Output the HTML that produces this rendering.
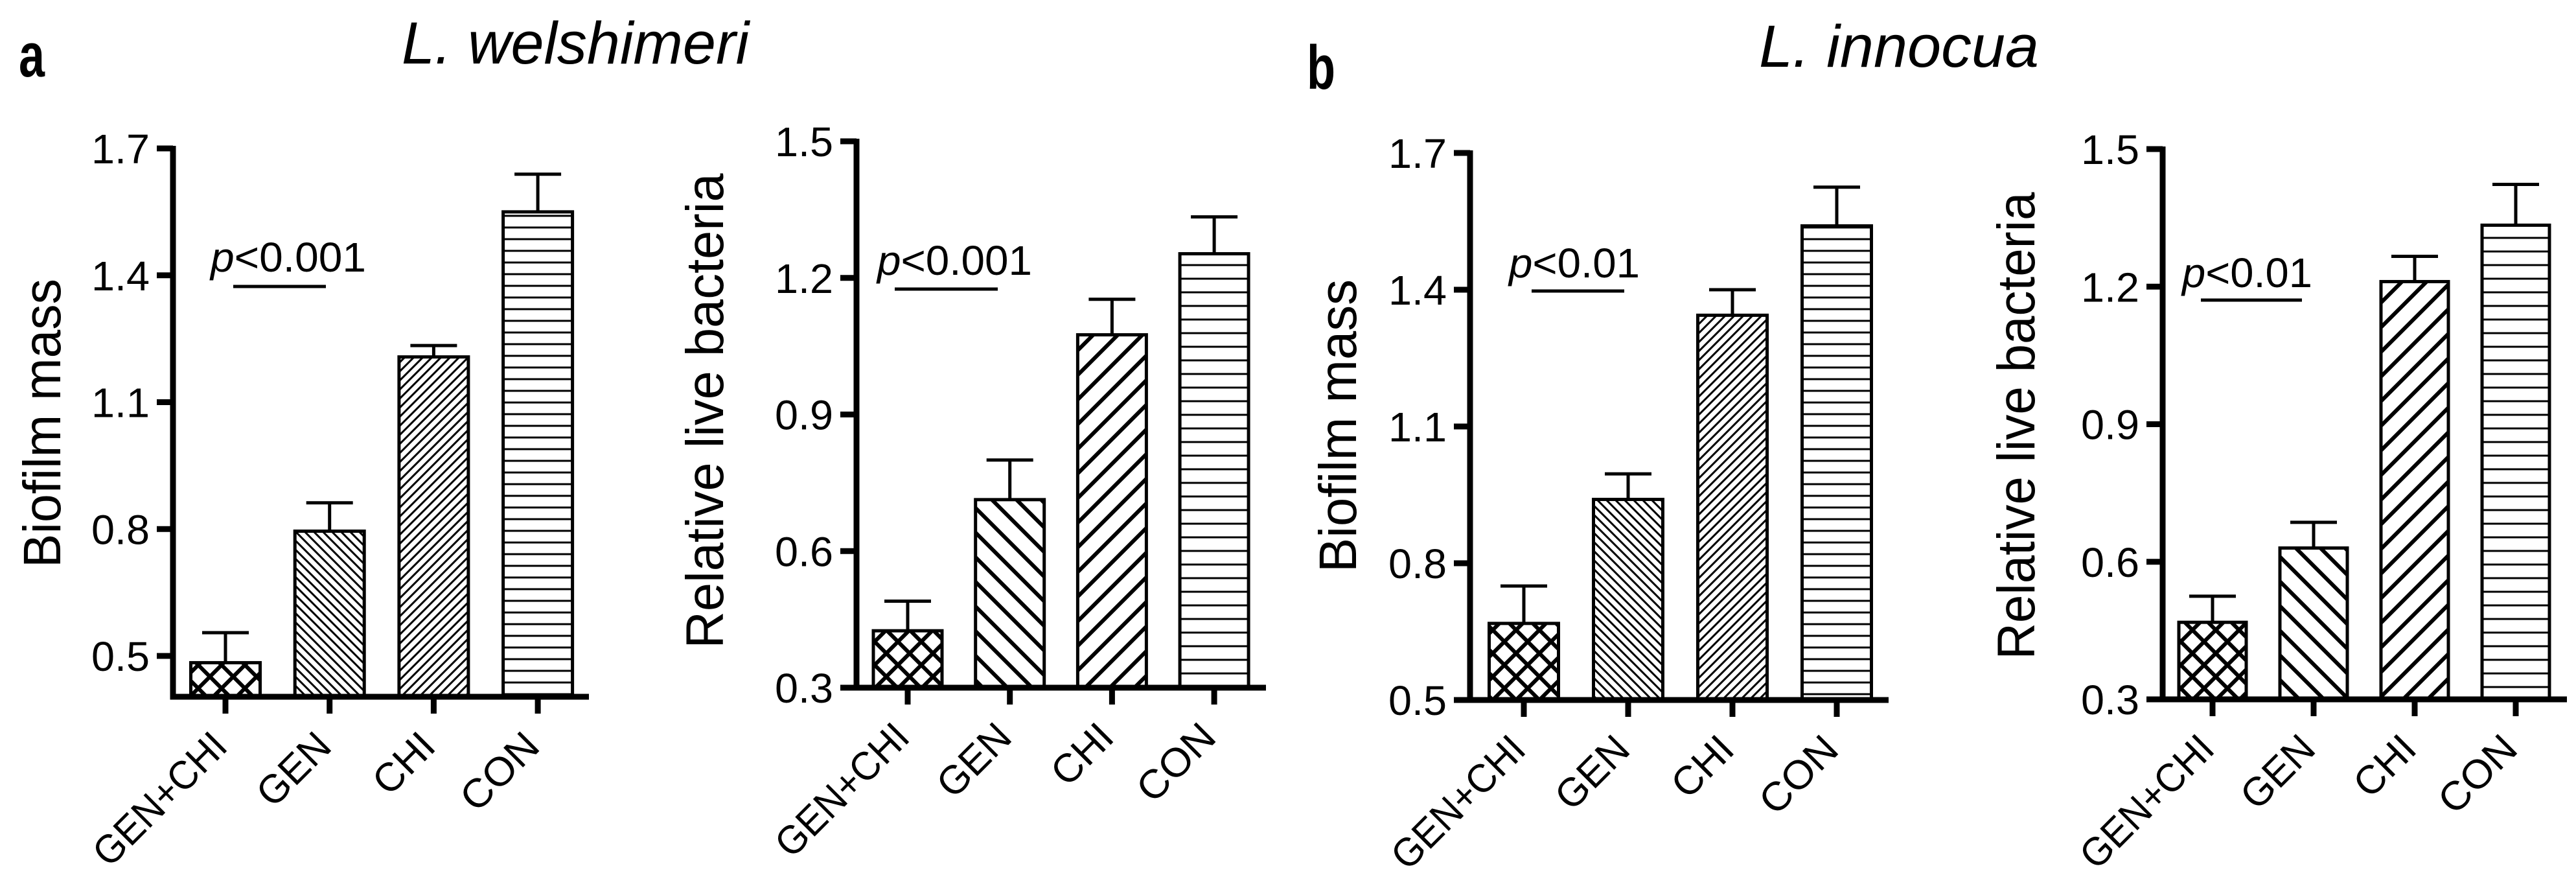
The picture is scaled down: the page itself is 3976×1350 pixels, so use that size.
<!DOCTYPE html>
<html><head><meta charset="utf-8"><style>
html,body{margin:0;padding:0;background:#fff;}
svg{display:block;font-family:"Liberation Sans",Arial,sans-serif;}
</style></head><body>
<svg id="fig" width="3976" height="1350" viewBox="0 0 3976 1350" xmlns="http://www.w3.org/2000/svg">
<defs>
  <pattern id="crossA" patternUnits="userSpaceOnUse" width="36" height="36"><path d="M-9,-9 L45,45 M-9,27 L9,45 M27,-9 L45,9 M45,-9 L-9,45 M9,-9 L-9,9 M45,27 L27,45" stroke="#000" stroke-width="6"/></pattern>
  <pattern id="backFine" patternUnits="userSpaceOnUse" width="14" height="14"><path d="M-4,-4 L18,18 M-4,10 L4,18 M10,-4 L18,4" stroke="#000" stroke-width="3"/></pattern>
  <pattern id="fwdFine" patternUnits="userSpaceOnUse" width="14" height="14"><path d="M18,-4 L-4,18 M4,-4 L-4,4 M18,10 L10,18" stroke="#000" stroke-width="3"/></pattern>
  <pattern id="horizA" patternUnits="userSpaceOnUse" width="20" height="18"><path d="M0,9 L20,9" stroke="#000" stroke-width="3"/></pattern>
  <pattern id="backThick" patternUnits="userSpaceOnUse" width="38" height="38"><path d="M-8,-8 L46,46 M-8,30 L8,46 M30,-8 L46,8" stroke="#000" stroke-width="6"/></pattern>
  <pattern id="fwdThick" patternUnits="userSpaceOnUse" width="38" height="38"><path d="M46,-8 L-8,46 M8,-8 L-8,8 M46,30 L30,46" stroke="#000" stroke-width="6"/></pattern>
  <pattern id="horizB" patternUnits="userSpaceOnUse" width="20" height="21"><path d="M0,10 L20,10" stroke="#000" stroke-width="3"/></pattern>
</defs>
<text x="29" y="118" font-size="96" font-weight="bold" textLength="40" lengthAdjust="spacingAndGlyphs">a</text>
<text x="620" y="98" font-size="92" font-style="italic" textLength="536" lengthAdjust="spacingAndGlyphs">L. welshimeri</text>
<text x="2017" y="137" font-size="96" font-weight="bold" textLength="44" lengthAdjust="spacingAndGlyphs">b</text>
<text x="2715" y="103" font-size="92" font-style="italic" textLength="432" lengthAdjust="spacingAndGlyphs">L. innocua</text>
</svg>
<script>
const categories = ["GEN+CHI", "GEN", "CHI", "CON"];
const biofilmTicks = [0.5, 0.8, 1.1, 1.4, 1.7];
const liveTicks = [0.3, 0.6, 0.9, 1.2, 1.5];
const biofilmTickLabels = ["0.5", "0.8", "1.1", "1.4", "1.7"];
const liveTickLabels = ["0.3", "0.6", "0.9", "1.2", "1.5"];
const welshBiofilm = [0.484, 0.795, 1.207, 1.55];
const welshBiofilmErr = [0.071, 0.067, 0.027, 0.089];
const welshLive = [0.425, 0.713, 1.075, 1.253];
const welshLiveErr = [0.065, 0.087, 0.078, 0.081];
const innBiofilm = [0.668, 0.94, 1.344, 1.54];
const innBiofilmErr = [0.082, 0.056, 0.056, 0.085];
const innLive = [0.468, 0.63, 1.211, 1.334];
const innLiveErr = [0.057, 0.056, 0.055, 0.089];
const pLabels = ["<0.001", "<0.001", "<0.01", "<0.01"];

const NS = "http://www.w3.org/2000/svg";
const svg = document.getElementById("fig");
function mk(tag, attrs, parent) {
  const e = document.createElementNS(NS, tag);
  for (const k in attrs) e.setAttribute(k, attrs[k]);
  (parent || svg).appendChild(e);
  return e;
}
const xLabLen = [262, 132, 106, 142];

const panels = [
  {id:"a-biofilm", vals:welshBiofilm, errs:welshBiofilmErr, ticks:biofilmTicks, tl:biofilmTickLabels, ax:267, v0:0.5, y0:1012, v1:1.7, y1:229, axisY:1075, xEnd:909, cx0:348, step:160.7, bw:107, pats:["crossA","backFine","fwdFine","horizA"], title:"Biofilm mass", tx:93, ty:653, tlen:446, p:pLabels[0], px:325, py:419, plen:240, lx1:360, lx2:503, ly:442},
  {id:"a-live", vals:welshLive, errs:welshLiveErr, ticks:liveTicks, tl:liveTickLabels, ax:1322, v0:0.3, y0:1061, v1:1.5, y1:218, axisY:1061, xEnd:1954, cx0:1401, step:157.7, bw:106, pats:["crossA","backThick","fwdThick","horizB"], title:"Relative live bacteria", tx:1116, ty:634, tlen:733, p:pLabels[1], px:1354, py:424, plen:239, lx1:1381, lx2:1540, ly:446},
  {id:"b-biofilm", vals:innBiofilm, errs:innBiofilmErr, ticks:biofilmTicks, tl:biofilmTickLabels, ax:2269, v0:0.5, y0:1080, v1:1.7, y1:236, axisY:1080, xEnd:2915, cx0:2352, step:161, bw:107, pats:["crossA","backFine","fwdFine","horizA"], title:"Biofilm mass", tx:2093, ty:657, tlen:452, p:pLabels[2], px:2329, py:428, plen:202, lx1:2364, lx2:2507, ly:449},
  {id:"b-live", vals:innLive, errs:innLiveErr, ticks:liveTicks, tl:liveTickLabels, ax:3338, v0:0.3, y0:1079, v1:1.5, y1:230, axisY:1079, xEnd:3962, cx0:3415, step:156, bw:104, pats:["crossA","backThick","fwdThick","horizB"], title:"Relative live bacteria", tx:3140, ty:657, tlen:721, p:pLabels[3], px:3368, py:443, plen:201, lx1:3397, lx2:3553, ly:463}
];

panels.forEach(P => {
  const g = mk("g", {});
  
  
  const y = v => P.y0 + (v - P.v0) * (P.y1 - P.y0) / (P.v1 - P.v0);
  const x = i => P.cx0 + i * P.step;
  categories.forEach((c, i) => {
    const top = y(P.vals[i]);
    const et = y(P.vals[i] + P.errs[i]);
    const eb = mk("line", {x1:x(i), x2:x(i), y1:top, y2:et, stroke:"#000", "stroke-width":5}, g);
    
    
    const cap = mk("line", {x1:x(i)-36, x2:x(i)+36, y1:et, y2:et, stroke:"#000", "stroke-width":5}, g);
    
    
    const r = mk("rect", {x:x(i)-P.bw/2, y:top, width:P.bw, height:P.axisY - top, fill:"url(#" + P.pats[i] + ")", stroke:"#000", "stroke-width":5}, g);
    
    
    const t = mk("line", {x1:x(i), x2:x(i), y1:P.axisY, y2:P.axisY+26, stroke:"#000", "stroke-width":9}, g);
    
    
    const lx = x(i) + 6, ly = P.axisY + 80;
    const lab = mk("text", {x:lx, y:ly, "font-size":62, "text-anchor":"end", textLength:xLabLen[i], lengthAdjust:"spacingAndGlyphs", transform:"rotate(-45 " + lx + " " + ly + ")"}, g);
    lab.textContent = c;
    
    
  });
  const ya = mk("line", {x1:P.ax, x2:P.ax, y1:y(P.ticks[P.ticks.length-1]) - 4, y2:P.axisY + 4.5, stroke:"#000", "stroke-width":9}, g);
  
  
  const xa = mk("line", {x1:P.ax - 4.5, x2:P.xEnd, y1:P.axisY, y2:P.axisY, stroke:"#000", "stroke-width":9}, g);
  
  
  P.ticks.forEach((v, k) => {
    const ty = y(v);
    const tk = mk("line", {x1:P.ax - 25, x2:P.ax, y1:ty, y2:ty, stroke:"#000", "stroke-width":9}, g);
    
    
    const tt = mk("text", {x:P.ax - 36, y:ty + 23, "font-size":64, "text-anchor":"end", textLength:90, lengthAdjust:"spacingAndGlyphs"}, g);
    tt.textContent = P.tl[k];
    
    
  });
  const yt = mk("text", {x:P.tx, y:P.ty, "font-size":82, "text-anchor":"middle", transform:"rotate(-90 " + P.tx + " " + P.ty + ")", textLength:P.tlen, lengthAdjust:"spacingAndGlyphs"}, g);
  yt.textContent = P.title;
  
  
  const pt = mk("text", {x:P.px, y:P.py, "font-size":64, textLength:P.plen, lengthAdjust:"spacingAndGlyphs"}, g);
  const ps = mk("tspan", {"font-style":"italic"}, pt);
  ps.textContent = "p";
  const pr = mk("tspan", {}, pt);
  pr.textContent = P.p;
  
  
  const pl = mk("line", {x1:P.lx1, x2:P.lx2, y1:P.ly, y2:P.ly, stroke:"#000", "stroke-width":5}, g);
  
  
});
</script>
</body></html>
